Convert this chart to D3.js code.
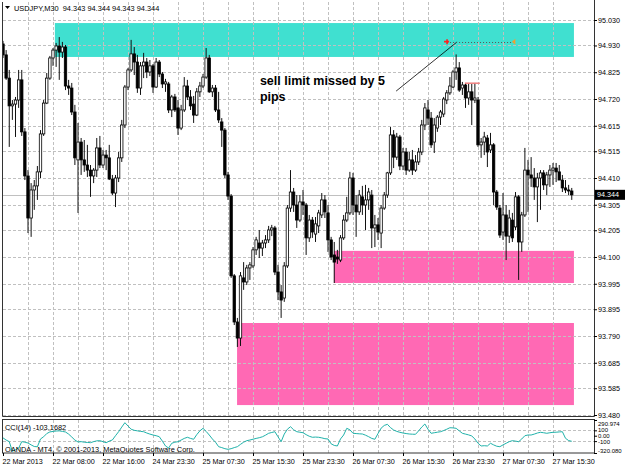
<!DOCTYPE html>
<html>
<head>
<meta charset="utf-8">
<script src="https://cdn.jsdelivr.net/npm/d3@7"></script>
<style>
  body { margin: 0; background: #fff; }
  svg { display: block; font-family: "Liberation Sans", Arial, sans-serif; }
</style>
</head>
<body>
<svg id="chart" width="625" height="469"></svg>
<script>
// USDJPY M30, bar 0 = 22 Mar 2013 00:00
var opens = [
  94.936, 94.893, 94.802, 94.693, 94.700, 94.716, 94.795, 94.591, 94.418, 94.253,
  94.363, 94.379, 94.434, 94.583, 94.704, 94.802, 94.881, 94.912, 94.928, 94.904,
  94.924, 94.771, 94.763, 94.669, 94.481, 94.551, 94.481, 94.461, 94.441, 94.418,
  94.441, 94.528, 94.461, 94.500, 94.489, 94.406, 94.351, 94.410, 94.489, 94.618,
  94.767, 94.834, 94.897, 94.865, 94.763, 94.850, 94.865, 94.826, 94.850, 94.767,
  94.865, 94.818, 94.779, 94.779, 94.677, 94.728, 94.685, 94.606, 94.677, 94.771,
  94.728, 94.700, 94.657, 94.748, 94.771, 94.806, 94.881, 94.748, 94.763, 94.677,
  94.630, 94.598, 94.422, 94.339, 94.026, 93.845, 93.782, 94.018, 94.002, 94.057,
  94.065, 94.128, 94.155, 94.135, 94.155, 94.167, 94.206, 94.214, 94.041, 93.963,
  93.939, 94.065, 94.292, 94.355, 94.304, 94.245, 94.316, 94.304, 94.175, 94.245,
  94.190, 94.222, 94.265, 94.324, 94.273, 94.167, 94.108, 94.100, 94.088, 94.175,
  94.245, 94.273, 94.410, 94.304, 94.277, 94.336, 94.304, 94.324, 94.343, 94.214,
  94.226, 94.194, 94.292, 94.343, 94.430, 94.579, 94.492, 94.571, 94.457, 94.512,
  94.441, 94.481, 94.441, 94.473, 94.512, 94.618, 94.677, 94.645, 94.551, 94.606,
  94.649, 94.661, 94.716, 94.744, 94.767, 94.826, 94.842, 94.763, 94.775, 94.724,
  94.748, 94.716, 94.716, 94.540, 94.551, 94.567, 94.520, 94.540, 94.355, 94.292,
  94.198, 94.265, 94.182, 94.245, 94.218, 94.336, 94.159, 94.265, 94.441, 94.422,
  94.410, 94.375, 94.410, 94.430, 94.383, 94.422, 94.441, 94.449, 94.434, 94.402,
  94.371, 94.363, 94.359
];
var highs = [
  94.948, 94.912, 94.834, 94.716, 94.728, 94.834, 94.834, 94.606, 94.441, 94.390,
  94.402, 94.457, 94.598, 94.716, 94.822, 94.889, 94.920, 94.940, 94.963, 94.944,
  94.932, 94.795, 94.783, 94.697, 94.626, 94.567, 94.559, 94.540, 94.461, 94.449,
  94.567, 94.575, 94.520, 94.520, 94.540, 94.422, 94.422, 94.512, 94.638, 94.775,
  94.842, 94.952, 94.924, 94.893, 94.865, 94.901, 94.881, 94.873, 94.857, 94.881,
  94.873, 94.826, 94.799, 94.787, 94.736, 94.740, 94.716, 94.697, 94.806, 94.795,
  94.755, 94.732, 94.763, 94.787, 94.818, 94.920, 94.893, 94.775, 94.775, 94.748,
  94.645, 94.606, 94.434, 94.347, 94.033, 93.861, 94.041, 94.080, 94.069, 94.080,
  94.139, 94.179, 94.206, 94.167, 94.186, 94.222, 94.226, 94.222, 94.069, 93.990,
  94.080, 94.304, 94.441, 94.371, 94.343, 94.343, 94.363, 94.312, 94.265, 94.257,
  94.257, 94.285, 94.351, 94.343, 94.304, 94.179, 94.159, 94.128, 94.186, 94.265,
  94.336, 94.434, 94.430, 94.343, 94.363, 94.379, 94.383, 94.371, 94.363, 94.265,
  94.253, 94.304, 94.355, 94.434, 94.610, 94.598, 94.587, 94.579, 94.528, 94.528,
  94.512, 94.520, 94.500, 94.528, 94.638, 94.704, 94.716, 94.669, 94.645, 94.657,
  94.677, 94.728, 94.755, 94.806, 94.834, 94.895, 94.865, 94.787, 94.783, 94.783,
  94.779, 94.783, 94.728, 94.567, 94.591, 94.579, 94.587, 94.547, 94.363, 94.304,
  94.351, 94.304, 94.285, 94.273, 94.355, 94.343, 94.277, 94.528, 94.481, 94.492,
  94.449, 94.430, 94.441, 94.441, 94.434, 94.461, 94.469, 94.469, 94.461, 94.422,
  94.402, 94.383, 94.371
];
var lows = [
  94.881, 94.795, 94.532, 94.638, 94.571, 94.685, 94.575, 94.402, 94.194, 94.179,
  94.285, 94.324, 94.410, 94.575, 94.700, 94.795, 94.850, 94.846, 94.795, 94.881,
  94.755, 94.736, 94.657, 94.461, 94.273, 94.422, 94.434, 94.414, 94.336, 94.390,
  94.414, 94.449, 94.449, 94.441, 94.402, 94.343, 94.296, 94.394, 94.473, 94.606,
  94.755, 94.826, 94.814, 94.744, 94.736, 94.802, 94.802, 94.810, 94.744, 94.763,
  94.806, 94.763, 94.748, 94.665, 94.649, 94.669, 94.579, 94.598, 94.669, 94.716,
  94.677, 94.626, 94.653, 94.728, 94.763, 94.799, 94.744, 94.728, 94.669, 94.626,
  94.532, 94.410, 94.324, 94.018, 93.833, 93.747, 93.751, 93.971, 93.990, 94.010,
  94.057, 94.108, 94.096, 94.104, 94.135, 94.155, 94.182, 94.029, 93.931, 93.861,
  93.924, 94.057, 94.277, 94.277, 94.214, 94.237, 94.265, 94.108, 94.159, 94.175,
  94.159, 94.194, 94.253, 94.253, 94.120, 94.088, 93.998, 94.073, 94.080, 94.167,
  94.237, 94.265, 94.265, 94.179, 94.265, 94.265, 94.206, 94.285, 94.135, 94.139,
  94.167, 94.135, 94.285, 94.332, 94.422, 94.449, 94.481, 94.441, 94.441, 94.422,
  94.434, 94.422, 94.434, 94.461, 94.500, 94.598, 94.618, 94.528, 94.508, 94.591,
  94.618, 94.649, 94.700, 94.736, 94.763, 94.795, 94.748, 94.736, 94.685, 94.697,
  94.618, 94.704, 94.532, 94.489, 94.500, 94.453, 94.508, 94.304, 94.285, 94.175,
  94.167, 94.088, 94.155, 94.159, 94.206, 94.010, 94.120, 94.257, 94.277, 94.375,
  94.324, 94.237, 94.285, 94.363, 94.343, 94.375, 94.383, 94.394, 94.402, 94.355,
  94.351, 94.343, 94.324
];
var closes = [
  94.893, 94.802, 94.693, 94.700, 94.716, 94.795, 94.591, 94.418, 94.253, 94.363,
  94.379, 94.434, 94.583, 94.704, 94.802, 94.881, 94.912, 94.928, 94.904, 94.924,
  94.771, 94.763, 94.669, 94.489, 94.551, 94.481, 94.461, 94.441, 94.418, 94.441,
  94.528, 94.461, 94.500, 94.489, 94.406, 94.351, 94.410, 94.489, 94.618, 94.767,
  94.834, 94.897, 94.865, 94.763, 94.850, 94.865, 94.826, 94.850, 94.767, 94.865,
  94.818, 94.779, 94.787, 94.677, 94.728, 94.677, 94.606, 94.677, 94.771, 94.728,
  94.693, 94.657, 94.748, 94.771, 94.806, 94.881, 94.748, 94.763, 94.677, 94.638,
  94.598, 94.422, 94.339, 94.026, 93.845, 93.782, 94.026, 94.002, 94.057, 94.069,
  94.128, 94.167, 94.135, 94.155, 94.167, 94.206, 94.214, 94.041, 93.963, 93.931,
  94.065, 94.292, 94.355, 94.304, 94.245, 94.316, 94.304, 94.175, 94.245, 94.198,
  94.230, 94.273, 94.324, 94.277, 94.167, 94.100, 94.080, 94.092, 94.175, 94.245,
  94.273, 94.410, 94.304, 94.277, 94.343, 94.304, 94.324, 94.355, 94.214, 94.226,
  94.198, 94.292, 94.343, 94.430, 94.579, 94.492, 94.571, 94.457, 94.512, 94.441,
  94.481, 94.441, 94.473, 94.512, 94.618, 94.685, 94.645, 94.540, 94.618, 94.649,
  94.669, 94.720, 94.744, 94.771, 94.826, 94.842, 94.755, 94.775, 94.724, 94.748,
  94.716, 94.724, 94.540, 94.551, 94.571, 94.512, 94.540, 94.355, 94.296, 94.186,
  94.265, 94.182, 94.253, 94.175, 94.336, 94.159, 94.265, 94.441, 94.422, 94.410,
  94.375, 94.410, 94.430, 94.383, 94.422, 94.441, 94.449, 94.434, 94.402, 94.371,
  94.363, 94.359, 94.344
];
var cci = [
  -40, -80, -110, -290, -260, -230, -110, -120, -135, -170,
  -200, -205, -60, -20, 40, 70, 80, 87, 90, 80,
  69, 30, -24, -80, -116, -110, -120, -125, -129, -110,
  -95, -92, -110, -129, -100, -79, 0, 74, 160, 241,
  180, 120, 100, 90, 80, 74, 50, 30, 13, 0,
  -18, -100, -190, -228, -140, -120, -111, -80, -50, -29,
  -50, -66, 20, 90, 137, 80, 13, -60, -120, -203,
  -220, -240, -252, -240, -220, -203, -160, -120, -92, -80,
  -65, -50, -37, -20, 10, 45, 60, 74, -20, -111,
  30, 120, 167, 110, 74, 65, 56, 20, -10, -29,
  -25, -29, -40, -55, -61, -150, -180, -190, -60, 13,
  137, 110, 45, 40, 35, 32, 10, -18, -50, -66,
  40, 140, 190, 211, 150, 106, 80, 63, 50, 40,
  32, 28, 26, 90, 160, 217, 120, 45, 55, 65,
  74, 95, 120, 148, 145, 137, 90, 45, 30, 15,
  -5, -60, -140, -190, -185, -190, -140, -170, -195, -203,
  -170, -140, -110, -92, -100, -111, -60, 0, 13, 13,
  30, 50, 63, 55, 45, 55, 63, 65, 70, 74,
  -48, -90, -103.1682
];

var priceTicks = [95.030, 94.930, 94.825, 94.720, 94.615, 94.515, 94.410, 94.305,
                  94.205, 94.100, 93.995, 93.895, 93.790, 93.685, 93.585, 93.480];
var timeLabels = ["22 Mar 2013", "22 Mar 08:00", "22 Mar 16:00", "24 Mar 23:30",
                  "25 Mar 07:30", "25 Mar 15:30", "25 Mar 23:30", "26 Mar 07:30",
                  "26 Mar 15:30", "26 Mar 23:30", "27 Mar 07:30", "27 Mar 15:30"];
var timeLabelBars = [0, 16, 32, 48, 64, 80, 96, 112, 128, 144, 160, 176];
var cciTicks = [290.974, 100, 0, -100, -320.080];
var cciTickLabels = ["290.974", "100", "0.00", "-100", "-320.080"];
var lastPrice = 94.344;
var headerText = "USDJPY,M30  94.343 94.344 94.343 94.344";
var cciText = "CCI(14) -103.1682";
var copyText = "OANDA - MT4, \u00a9 2001-2013, MetaQuotes Software Corp.";

// rectangles drawn on the chart (bar index from/to, price top/bottom)
var zoneFrom = [16.6, 105.9, 74.9];
var zoneTo = [182.7, 182.7, 182.7];
var zoneTop = [95.018, 94.124, 93.841];
var zoneBottom = [94.885, 93.998, 93.519];
var zoneColors = ["#40e0d0", "#ff69b4", "#ff69b4"];

// trend line, pending sell limit, red mark, note
var trendBars = [125.8, 145.3];
var trendPrices = [94.751, 94.944];
var limitBars = [142.1, 163.8];
var limitPrice = 94.945;
var markBars = [147.8, 152.6];
var markPrice = 94.782;
var noteLines = ["sell limit missed by 5", "pips"];
var noteBar = 82.2;
var notePrices = [94.775, 94.712];

var svg = d3.select("#chart");
var x = d3.scaleLinear().domain([0, 189.12]).range([3, 594]);
var y = d3.scaleLinear().domain([93.480, 95.030]).range([415, 20]);
var yc = d3.scaleLinear().domain([-320.080, 290.974]).range([453, 420]);

svg.append("rect").attr("width", 625).attr("height", 469).attr("fill", "#fff");

var defs = svg.append("defs");
defs.append("clipPath").attr("id", "mainclip")
  .append("rect").attr("x", 3).attr("y", 2).attr("width", 591).attr("height", 414);
defs.append("clipPath").attr("id", "subclip")
  .append("rect").attr("x", 3).attr("y", 420).attr("width", 591).attr("height", 33);

var main = svg.append("g").attr("clip-path", "url(#mainclip)");
var sub = svg.append("g").attr("clip-path", "url(#subclip)");

// zones
main.selectAll(".zone")
  .data(zoneFrom)
  .enter()
  .append("rect")
    .attr("class", "zone")
    .attr("x", function(d) { return x(d); })
    .attr("width", function(d, i) { return x(zoneTo[i]) - x(d); })
    .attr("y", function(d, i) { return y(zoneTop[i]); })
    .attr("height", function(d, i) { return y(zoneBottom[i]) - y(zoneTop[i]); })
    .attr("fill", function(d, i) { return zoneColors[i]; });

// grid
var gridBars = d3.range(8, 184, 8);
main.selectAll(".hgrid")
  .data(priceTicks)
  .enter()
  .append("line")
    .attr("x1", 3).attr("x2", 594)
    .attr("y1", function(d) { return Math.round(y(d)) + 0.5; })
    .attr("y2", function(d) { return Math.round(y(d)) + 0.5; })
    .attr("stroke", "#c0c0c0")
    .attr("stroke-dasharray", "3,2");
main.selectAll(".vgrid")
  .data(gridBars)
  .enter()
  .append("line")
    .attr("x1", function(d) { return Math.round(x(d)) + 0.5; })
    .attr("x2", function(d) { return Math.round(x(d)) + 0.5; })
    .attr("y1", 2).attr("y2", 416)
    .attr("stroke", "#c0c0c0")
    .attr("stroke-dasharray", "3,2");
sub.selectAll(".vgrid")
  .data(gridBars)
  .enter()
  .append("line")
    .attr("x1", function(d) { return Math.round(x(d)) + 0.5; })
    .attr("x2", function(d) { return Math.round(x(d)) + 0.5; })
    .attr("y1", 420).attr("y2", 453)
    .attr("stroke", "#c0c0c0")
    .attr("stroke-dasharray", "3,2");
sub.selectAll(".hgrid")
  .data([100, -100])
  .enter()
  .append("line")
    .attr("x1", 3).attr("x2", 594)
    .attr("y1", function(d) { return Math.round(yc(d)) + 0.5; })
    .attr("y2", function(d) { return Math.round(yc(d)) + 0.5; })
    .attr("stroke", "#c0c0c0")
    .attr("stroke-dasharray", "3,2");

// last price line
main.append("line")
  .attr("x1", 3).attr("x2", 594)
  .attr("y1", Math.round(y(lastPrice)) + 0.5)
  .attr("y2", Math.round(y(lastPrice)) + 0.5)
  .attr("stroke", "#c0c0c0");

// candles
var bars = opens.map(function(o, i) {
  return { i: i, o: o, h: highs[i], l: lows[i], c: closes[i] };
});
main.selectAll(".wick")
  .data(bars)
  .enter()
  .append("line")
    .attr("x1", function(d) { return x(d.i); })
    .attr("x2", function(d) { return x(d.i); })
    .attr("y1", function(d) { return y(d.h); })
    .attr("y2", function(d) { return y(d.l); })
    .attr("stroke", "#111")
    .attr("stroke-width", 1);
main.selectAll(".body")
  .data(bars)
  .enter()
  .append("rect")
    .attr("x", function(d) { return x(d.i) - 1.2; })
    .attr("width", 2.4)
    .attr("y", function(d) { return y(Math.max(d.o, d.c)); })
    .attr("height", function(d) { return Math.max(0.8, Math.abs(y(d.o) - y(d.c))); })
    .attr("fill", function(d) { return d.c >= d.o ? "#fff" : "#000"; })
    .attr("stroke", "#000")
    .attr("stroke-width", 0.8);

// trend line
main.append("line")
  .attr("x1", x(trendBars[0])).attr("y1", y(trendPrices[0]))
  .attr("x2", x(trendBars[1])).attr("y2", y(trendPrices[1]))
  .attr("stroke", "#000").attr("stroke-width", 0.8);

// pending order line with markers
main.append("line")
  .attr("x1", x(limitBars[0])).attr("x2", x(limitBars[1]))
  .attr("y1", Math.round(y(limitPrice)) + 0.5).attr("y2", Math.round(y(limitPrice)) + 0.5)
  .attr("stroke", "#555").attr("stroke-dasharray", "1,2");
main.append("path")
  .attr("transform", "translate(" + x(limitBars[0]) + "," + y(limitPrice) + ")")
  .attr("d", "M-3,0H2M0,-2.5V2.5")
  .attr("stroke", "#ff2020").attr("stroke-width", 1.6);
main.append("path")
  .attr("transform", "translate(" + x(limitBars[1]) + "," + y(limitPrice) + ")")
  .attr("d", "M-3,0L0.5,-3V3Z")
  .attr("fill", "#f0a030");

// red mark
main.append("line")
  .attr("x1", x(markBars[0])).attr("x2", x(markBars[1]))
  .attr("y1", y(markPrice)).attr("y2", y(markPrice))
  .attr("stroke", "#f08080").attr("stroke-width", 1.5);

// note
main.selectAll(".note")
  .data(noteLines)
  .enter()
  .append("text")
    .attr("x", x(noteBar))
    .attr("y", function(d, i) { return y(notePrices[i]); })
    .attr("font-size", "12.5px")
    .attr("font-weight", "bold")
    .attr("fill", "#000")
    .text(function(d) { return d; });

// CCI line
sub.append("path")
  .datum(cci)
  .attr("fill", "none")
  .attr("stroke", "#20b2aa")
  .attr("stroke-width", 1)
  .attr("d", d3.line()
    .x(function(d, i) { return x(i); })
    .y(function(d) { return yc(d); }));

sub.append("text")
  .attr("x", 5).attr("y", 430)
  .attr("font-size", "7.4px").attr("fill", "#000")
  .text(cciText);
sub.append("text")
  .attr("x", 5).attr("y", 451.5)
  .attr("font-size", "7.4px").attr("fill", "#000")
  .text(copyText);

// frames
svg.append("path")
  .attr("d", "M2.5,2V416.5H594.5V0")
  .attr("fill", "none").attr("stroke", "#333");
svg.append("rect")
  .attr("x", 2.5).attr("y", 419.5).attr("width", 592).attr("height", 33.5)
  .attr("fill", "none").attr("stroke", "#333");

// price axis
var pAxis = svg.append("g")
  .attr("transform", "translate(594,0)")
  .call(d3.axisRight(y).tickValues(priceTicks).tickSize(3).tickSizeOuter(0)
    .tickPadding(1).tickFormat(d3.format(".3f")));
pAxis.select(".domain").remove();
pAxis.selectAll("text").attr("font-size", "7.2px").attr("font-family", "Liberation Sans, Arial, sans-serif").attr("fill", "#000");

// current price box
svg.append("rect")
  .attr("x", 595).attr("y", y(lastPrice) - 5).attr("width", 30).attr("height", 10)
  .attr("fill", "#000");
svg.append("text")
  .attr("x", 597).attr("y", y(lastPrice) + 2.6)
  .attr("font-size", "7.2px").attr("fill", "#fff")
  .text(d3.format(".3f")(lastPrice));

// CCI axis (labels sit close together, as in the terminal)
var cciShift = [3.8, -0.6, 0, 0.8, -2.5];
var cAxis = svg.append("g")
  .attr("transform", "translate(594,0)")
  .call(d3.axisRight(yc).tickValues(cciTicks).tickSize(3).tickSizeOuter(0)
    .tickPadding(1).tickFormat(function(d, i) { return cciTickLabels[i]; }));
cAxis.select(".domain").remove();
cAxis.selectAll("text")
  .attr("font-size", "6px").attr("font-family", "Liberation Sans, Arial, sans-serif").attr("fill", "#000")
  .attr("y", function(d, i) { return cciShift[i]; });

// time axis
var tAxis = svg.append("g")
  .attr("transform", "translate(0,453)")
  .call(d3.axisBottom(x).tickValues(timeLabelBars).tickSize(3).tickSizeOuter(0)
    .tickFormat(function(d, i) { return timeLabels[i]; }));
tAxis.select(".domain").remove();
tAxis.selectAll("text")
  .attr("font-size", "7.2px").attr("font-family", "Liberation Sans, Arial, sans-serif").attr("fill", "#000")
  .attr("text-anchor", "start").attr("x", -1);

// header
svg.append("path").attr("d", "M5,6H10L7.5,9Z").attr("fill", "#000");
svg.append("text")
  .attr("x", 14).attr("y", 11)
  .attr("font-size", "7.4px").attr("fill", "#000")
  .attr("xml:space", "preserve")
  .text(headerText);
</script>
</body>
</html>
